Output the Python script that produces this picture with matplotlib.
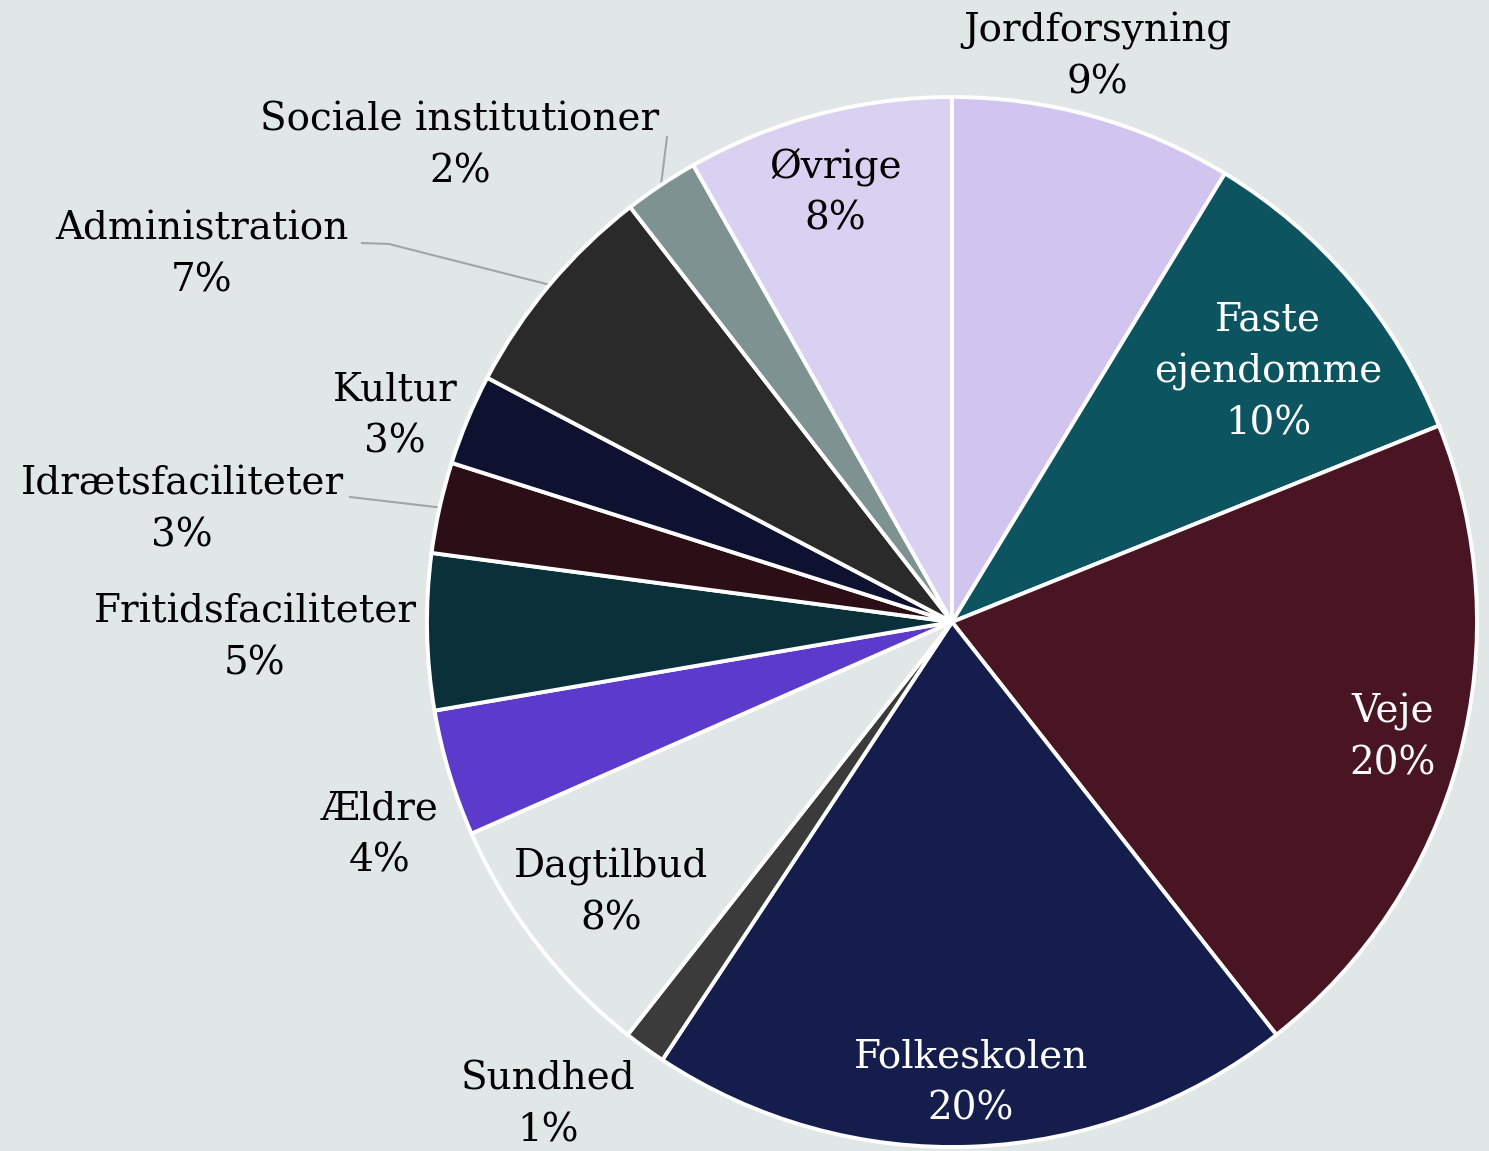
import numpy as np
import matplotlib.pyplot as plt

# Données : part de chaque poste (en %), dans le sens horaire depuis midi
categories = ["Jordforsyning", "Faste\nejendomme", "Veje", "Folkeskolen", "Sundhed",
              "Dagtilbud", "Ældre", "Fritidsfaciliteter", "Idrætsfaciliteter", "Kultur",
              "Administration", "Sociale institutioner", "Øvrige"]
valeurs = [8.7, 10.2, 20.5, 19.9, 1.3, 7.8, 3.9, 4.8, 2.8, 2.8, 6.8, 2.3, 8.2]
etiquettes_pct = ["9%", "10%", "20%", "20%", "1%", "8%", "4%", "5%", "3%", "3%", "7%", "2%", "8%"]

couleurs = ["#d1c5ef", "#0b5460", "#4a1522", "#151d4c", "#3b3b3b",
            "#e1e7e6", "#5c3acb", "#0a303a", "#2b0e16", "#0e1230",
            "#2a2a2a", "#7e9292", "#d9d1f2"]
couleurs_texte = ["black", "white", "white", "white", "black",
                  "black", "black", "black", "black", "black",
                  "black", "black", "black"]

# position des étiquettes (pixels de l'image)
pos_etiquettes = [(1097, 57), (1268, 372), (1393, 738), (971, 1083), (548, 1105),
                  (611, 893), (380, 835), (255, 638), (182, 510), (395, 416),
                  (202, 255), (460, 146), (835, 192)]

fond = "#e1e7e6"
W, H = 1489, 1151
cx, cy, R = 952, 622, 525


def px(x, y):
    # pixels -> coordonnées du camembert (rayon 1)
    return (x - cx) / R, (cy - y) / R


fig = plt.figure(figsize=(W / 100, H / 100), dpi=100, facecolor=fond)
ax = fig.add_axes([0, 0, 1, 1])
ax.set_facecolor(fond)

wedges, _ = ax.pie(valeurs, colors=couleurs, startangle=90, counterclock=False,
                   radius=1, wedgeprops=dict(edgecolor="white", linewidth=2.8))

ax.set_xlim(-cx / R, (W - cx) / R)
ax.set_ylim(-(H - cy) / R, cy / R)
ax.set_aspect("equal")
ax.axis("off")

for i, (nom, pct) in enumerate(zip(categories, etiquettes_pct)):
    x, y = px(*pos_etiquettes[i])
    ax.text(x, y, nom + "\n" + pct, ha="center", va="center", fontsize=28,
            family="DejaVu Serif", color=couleurs_texte[i], linespacing=1.5)

# lignes de rappel vers le milieu des parts
def milieu(w):
    a = np.deg2rad((w.theta1 + w.theta2) / 2)
    return np.cos(a), np.sin(a)

rappels = {11: [(667, 137)], 10: [(362, 243), (389, 244)], 8: [(350, 497)]}
for i, pts in rappels.items():
    xs = [px(*p)[0] for p in pts]
    ys = [px(*p)[1] for p in pts]
    mx, my = milieu(wedges[i])
    ax.plot(xs + [mx], ys + [my], color="#a0a6a6", lw=1.5, zorder=0)

plt.savefig("out.png", dpi=100, facecolor=fond)
